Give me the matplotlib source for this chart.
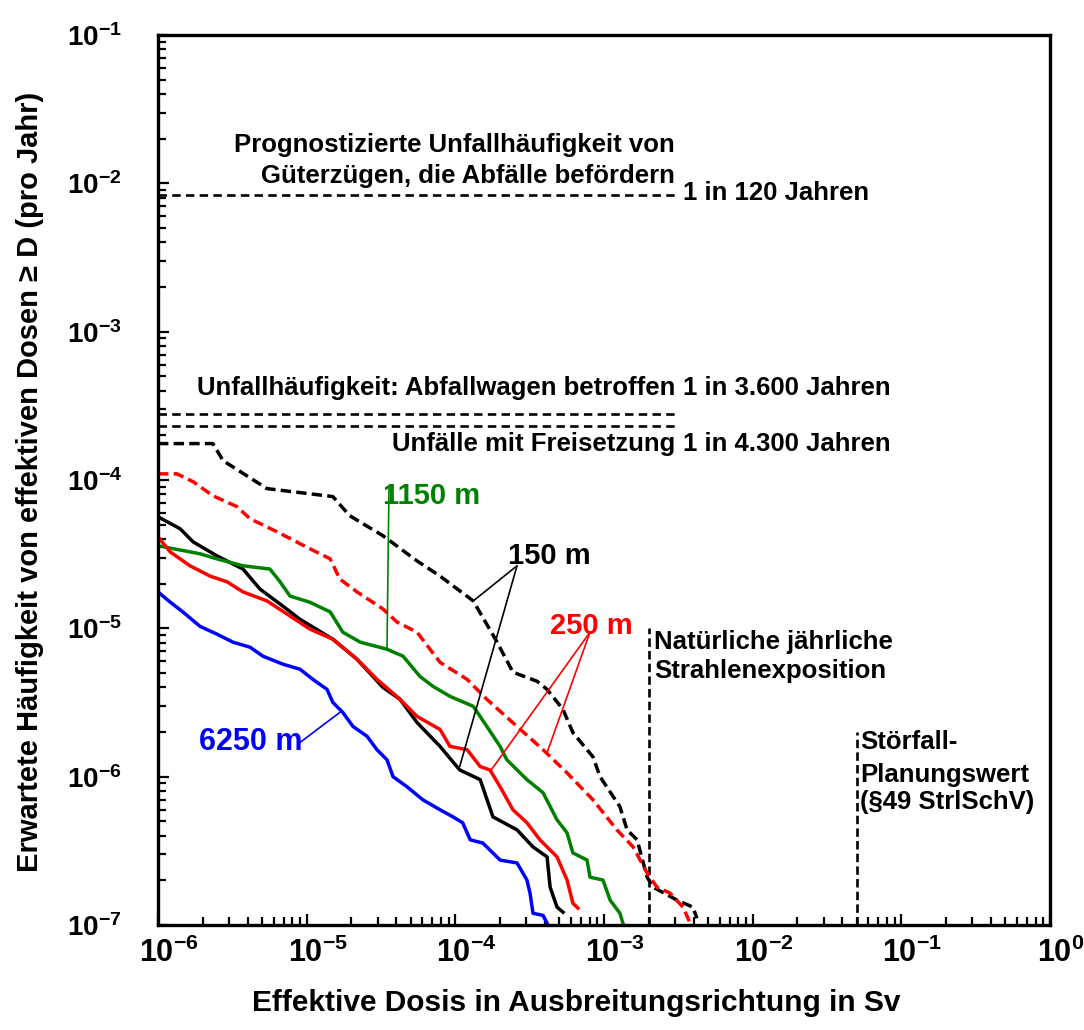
import matplotlib
matplotlib.use("Agg")
import matplotlib.pyplot as plt
from matplotlib.ticker import LogLocator, NullFormatter, FixedLocator, FixedFormatter
import matplotlib.transforms as mtransforms

# ----------------------------
# FONTS
# ----------------------------
plt.rcParams['font.family'] = ['Liberation Sans', 'DejaVu Sans']
plt.rcParams['font.weight'] = 'bold'
plt.rcParams['mathtext.fontset'] = 'custom'
plt.rcParams['mathtext.rm'] = 'Liberation Sans:bold'
plt.rcParams['mathtext.bf'] = 'Liberation Sans:bold'

# ----------------------------
# DATA
# ----------------------------
# 150 m, dashed
dose_150_dash = [1.00e-6, 2.34e-6, 2.74e-6, 5.41e-6, 1.50e-5, 1.95e-5, 3.26e-5, 5.52e-5, 7.89e-5,
                 1.32e-4, 1.91e-4, 2.44e-4, 3.54e-4, 4.14e-4, 5.30e-4, 6.18e-4, 8.43e-4, 9.40e-4,
                 1.28e-3, 1.43e-3, 1.67e-3, 1.95e-3, 2.14e-3, 3.10e-3, 3.96e-3, 4.22e-3]
freq_150_dash = [1.76e-4, 1.76e-4, 1.35e-4, 8.75e-5, 7.73e-5, 5.74e-5, 4.21e-5, 2.85e-5, 2.25e-5,
                 1.53e-5, 8.07e-6, 5.06e-6, 4.40e-6, 3.88e-6, 2.84e-6, 1.98e-6, 1.36e-6, 1.00e-6,
                 6.27e-7, 4.38e-7, 3.75e-7, 2.10e-7, 1.80e-7, 1.47e-7, 1.32e-7, 1.11e-7]

# 250 m, dashed
dose_250_dash = [1.00e-6, 1.34e-6, 1.72e-6, 2.34e-6, 3.40e-6, 4.16e-6, 6.31e-6, 1.05e-5, 1.44e-5,
                 1.67e-5, 2.18e-5, 3.26e-5, 4.06e-5, 5.52e-5, 7.89e-5, 1.20e-4, 1.63e-4, 2.60e-4,
                 3.89e-4, 5.64e-4, 8.43e-4, 1.22e-3, 1.57e-3, 1.95e-3, 2.27e-3, 2.78e-3, 3.40e-3, 3.78e-3]
freq_250_dash = [1.10e-4, 1.10e-4, 9.75e-5, 7.83e-5, 6.61e-5, 5.48e-5, 4.48e-5, 3.44e-5, 2.94e-5,
                 2.15e-5, 1.76e-5, 1.35e-5, 1.10e-5, 9.42e-6, 5.90e-6, 4.53e-6, 3.32e-6, 2.18e-6,
                 1.52e-6, 1.06e-6, 6.98e-7, 4.38e-7, 3.36e-7, 2.24e-7, 1.80e-7, 1.64e-7, 1.32e-7, 1.04e-7]

# 150 m, solid
dose_150 = [1.00e-6, 1.41e-6, 1.72e-6, 2.49e-6, 3.73e-6, 4.85e-6, 6.93e-6, 9.02e-6, 1.50e-5,
            2.18e-5, 3.26e-5, 4.25e-5, 5.52e-5, 7.89e-5, 1.07e-4, 1.47e-4, 1.79e-4, 2.60e-4,
            3.33e-4, 4.14e-4, 4.34e-4, 4.83e-4, 5.30e-4]
freq_150 = [5.65e-5, 4.69e-5, 3.83e-5, 3.08e-5, 2.51e-5, 1.84e-5, 1.41e-5, 1.15e-5, 8.45e-6,
            6.19e-6, 4.00e-6, 3.32e-6, 2.32e-6, 1.60e-6, 1.11e-6, 9.55e-7, 5.36e-7, 4.38e-7,
            3.36e-7, 2.88e-7, 1.80e-7, 1.32e-7, 1.22e-7]

# 250 m, solid
dose_250 = [1.00e-6, 1.21e-6, 1.64e-6, 2.24e-6, 2.91e-6, 3.73e-6, 5.41e-6, 7.73e-6, 1.05e-5,
            1.50e-5, 2.18e-5, 2.97e-5, 4.25e-5, 5.52e-5, 7.89e-5, 9.20e-5, 1.20e-4, 1.47e-4,
            1.71e-4, 2.00e-4, 2.44e-4, 3.03e-4, 3.71e-4, 4.83e-4, 5.64e-4, 6.18e-4, 6.68e-4]
freq_250 = [4.14e-5, 3.27e-5, 2.64e-5, 2.25e-5, 2.06e-5, 1.76e-5, 1.53e-5, 1.21e-5, 9.89e-6,
            8.45e-6, 6.19e-6, 4.53e-6, 3.32e-6, 2.55e-6, 2.08e-6, 1.60e-6, 1.52e-6, 1.17e-6,
            1.11e-6, 8.55e-7, 5.98e-7, 4.89e-7, 3.75e-7, 2.88e-7, 2.01e-7, 1.40e-7, 1.30e-7]

# 1150 m
dose_1150 = [1.00e-6, 1.92e-6, 2.49e-6, 3.73e-6, 5.66e-6, 6.62e-6, 7.73e-6, 1.05e-5, 1.44e-5,
             1.75e-5, 2.29e-5, 3.47e-5, 4.45e-5, 5.78e-5, 7.08e-5, 9.20e-5, 1.32e-4, 1.63e-4,
             2.00e-4, 2.22e-4, 3.03e-4, 3.89e-4, 4.83e-4, 5.64e-4, 6.18e-4, 7.69e-4, 8.05e-4,
             9.84e-4, 1.10e-3, 1.28e-3, 1.34e-3]
freq_1150 = [3.60e-5, 3.18e-5, 2.94e-5, 2.64e-5, 2.51e-5, 2.06e-5, 1.65e-5, 1.50e-5, 1.29e-5,
             9.42e-6, 8.07e-6, 7.23e-6, 6.49e-6, 4.74e-6, 4.06e-6, 3.48e-6, 2.98e-6, 2.18e-6,
             1.60e-6, 1.30e-6, 9.55e-7, 7.80e-7, 5.12e-7, 4.18e-7, 3.06e-7, 2.74e-7, 2.10e-7,
             2.01e-7, 1.47e-7, 1.20e-7, 1.03e-7]

# 6250 m
dose_6250 = [1.00e-6, 1.21e-6, 1.47e-6, 1.92e-6, 2.49e-6, 3.19e-6, 4.16e-6, 5.08e-6, 6.93e-6,
             9.02e-6, 1.10e-5, 1.37e-5, 1.50e-5, 1.75e-5, 2.05e-5, 2.55e-5, 2.97e-5, 3.47e-5,
             3.81e-5, 4.73e-5, 6.05e-5, 7.89e-5, 9.64e-5, 1.12e-4, 1.26e-4, 1.53e-4, 2.00e-4,
             2.60e-4, 3.03e-4, 3.18e-4, 3.33e-4, 3.89e-4, 4.20e-4]
freq_6250 = [1.76e-5, 1.50e-5, 1.29e-5, 1.03e-5, 9.14e-6, 8.07e-6, 7.46e-6, 6.49e-6, 5.73e-6,
             5.30e-6, 4.53e-6, 3.88e-6, 3.17e-6, 2.71e-6, 2.18e-6, 1.87e-6, 1.52e-6, 1.30e-6,
             1.00e-6, 8.55e-7, 6.98e-7, 5.98e-7, 5.36e-7, 4.89e-7, 3.75e-7, 3.57e-7, 2.74e-7,
             2.62e-7, 2.01e-7, 1.64e-7, 1.20e-7, 1.16e-7, 1.00e-7]

# reference accident frequencies (1 in 120 / 3600 / 4300 years)
ref_years = [120, 3600, 4300]
ref_dose_end = 3.0e-3
# reference doses: natural annual exposure, accident planning value
limit_dose = [2.0e-3, 5.0e-2]
limit_top = [1.0e-5, 2.0e-6]

x_ticks = [1e-6, 1e-5, 1e-4, 1e-3, 1e-2, 1e-1, 1e0]
x_ticklabels = [r'$\mathbf{10^{-6}}$', r'$\mathbf{10^{-5}}$', r'$\mathbf{10^{-4}}$',
                r'$\mathbf{10^{-3}}$', r'$\mathbf{10^{-2}}$', r'$\mathbf{10^{-1}}$', r'$\mathbf{10^{0}}$']
y_ticks = [1e-7, 1e-6, 1e-5, 1e-4, 1e-3, 1e-2, 1e-1]
y_ticklabels = [r'$\mathbf{10^{-7}}$', r'$\mathbf{10^{-6}}$', r'$\mathbf{10^{-5}}$',
                r'$\mathbf{10^{-4}}$', r'$\mathbf{10^{-3}}$', r'$\mathbf{10^{-2}}$', r'$\mathbf{10^{-1}}$']

GREEN = '#008000'
RED = '#ff0000'
BLUE = '#0000ff'

# ----------------------------
# FIGURE
# ----------------------------
fig = plt.figure(figsize=(10.84, 10.30), dpi=100)
ax = fig.add_axes([158 / 1084, 1 - 925 / 1030, 892 / 1084, 890 / 1030])
ax.set_xscale('log')
ax.set_yscale('log')
ax.set_xlim(1e-6, 1e0)
ax.set_ylim(1e-7, 1e-1)

# reference lines
ref_freq = [1.0 / y for y in ref_years]
ax.hlines(ref_freq, 1e-6, ref_dose_end, colors='k', linestyles=(0, (3.2, 2.0)), lw=1.9)
ax.vlines(limit_dose, 1e-7, limit_top, colors='k', linestyles=(0, (3.2, 1.6)), lw=1.9)

# curves
lw = 2.5
dash = (0, (3.0, 1.5))
ax.plot(dose_150_dash, freq_150_dash, color='k', lw=lw, ls=dash)
ax.plot(dose_250_dash, freq_250_dash, color=RED, lw=lw, ls=dash)
ax.plot(dose_150, freq_150, color='k', lw=lw)
ax.plot(dose_1150, freq_1150, color=GREEN, lw=lw)
ax.plot(dose_250, freq_250, color=RED, lw=lw)
ax.plot(dose_6250, freq_6250, color=BLUE, lw=lw)

# ----------------------------
# TEXT LABELS
# ----------------------------
fs = 18.5
ax.text(3.0e-3, 1.80e-2, 'Prognostizierte Unfallhäufigkeit von', ha='right', va='center', fontsize=fs)
ax.text(3.0e-3, 1.12e-2, 'Güterzügen, die Abfälle befördern', ha='right', va='center', fontsize=fs)
ax.text(3.4e-3, 8.6e-3, '1 in 120 Jahren', ha='left', va='center', fontsize=fs)
ax.text(3.0e-3, 4.15e-4, 'Unfallhäufigkeit: Abfallwagen betroffen', ha='right', va='center', fontsize=fs)
ax.text(3.4e-3, 4.15e-4, '1 in 3.600 Jahren', ha='left', va='center', fontsize=fs)
ax.text(3.0e-3, 1.76e-4, 'Unfälle mit Freisetzung', ha='right', va='center', fontsize=fs)
ax.text(3.4e-3, 1.76e-4, '1 in 4.300 Jahren', ha='left', va='center', fontsize=fs)
ax.text(2.17e-3, 8.07e-6, 'Natürliche jährliche', ha='left', va='center', fontsize=fs)
ax.text(2.17e-3, 5.13e-6, 'Strahlenexposition', ha='left', va='center', fontsize=fs)
ax.text(5.3e-2, 1.70e-6, 'Störfall-', ha='left', va='center', fontsize=fs)
ax.text(5.3e-2, 1.03e-6, 'Planungswert', ha='left', va='center', fontsize=fs)
ax.text(5.3e-2, 6.8e-7, '(§49 StrlSchV)', ha='left', va='center', fontsize=fs)

# distance labels with leader lines
lfs = 21
ax.text(3.26e-5, 7.83e-5, '1150 m', color=GREEN, ha='left', va='center', fontsize=lfs)
ax.text(2.26e-4, 3.08e-5, '150 m', color='k', ha='left', va='center', fontsize=lfs)
ax.text(4.34e-4, 1.03e-5, '250 m', color=RED, ha='left', va='center', fontsize=lfs)
ax.text(9.4e-6, 1.70e-6, '6250 m', color=BLUE, ha='right', va='center', fontsize=22)

leaders = [
    ((3.58e-5, 9.2e-5), (3.47e-5, 7.2e-6), GREEN),
    ((2.60e-4, 2.64e-5), (1.32e-4, 1.53e-5), 'k'),
    ((2.60e-4, 2.64e-5), (1.07e-4, 1.17e-6), 'k'),
    ((8.05e-4, 9.42e-6), (1.71e-4, 1.08e-6), RED),
    ((8.05e-4, 9.42e-6), (4.14e-4, 1.45e-6), RED),
    ((9.02e-6, 1.70e-6), (1.67e-5, 2.71e-6), BLUE),
]
for start, end, col in leaders:
    ax.annotate('', xy=end, xytext=start,
                arrowprops=dict(arrowstyle='-', color=col, lw=1.2, shrinkA=0, shrinkB=0))

# ----------------------------
# AXES STYLE
# ----------------------------
for sp in ax.spines.values():
    sp.set_linewidth(2.4)

ax.xaxis.set_major_locator(FixedLocator(x_ticks))
ax.xaxis.set_major_formatter(FixedFormatter(x_ticklabels))
ax.yaxis.set_major_locator(FixedLocator(y_ticks))
ax.yaxis.set_major_formatter(FixedFormatter(y_ticklabels))
ax.xaxis.set_minor_locator(LogLocator(base=10, subs=range(2, 10), numticks=20))
ax.yaxis.set_minor_locator(LogLocator(base=10, subs=range(2, 10), numticks=20))
ax.xaxis.set_minor_formatter(NullFormatter())
ax.yaxis.set_minor_formatter(NullFormatter())

ax.tick_params(which='both', direction='in', top=False, right=False, width=1.6)
ax.tick_params(which='major', length=8)
ax.tick_params(which='minor', length=6)
ax.tick_params(axis='x', which='major', labelsize=22, pad=9)
ax.tick_params(axis='y', which='major', labelsize=20, pad=26)

offset = mtransforms.ScaledTranslation(8 / 72, 0, fig.dpi_scale_trans)
for lbl in ax.get_xticklabels():
    lbl.set_transform(lbl.get_transform() + offset)

fig.text(576 / 1084, 1 - 1003 / 1030, 'Effektive Dosis in Ausbreitungsrichtung in Sv',
         ha='center', va='center', fontsize=21.5)
fig.text(30 / 1084, 1 - 482 / 1030, 'Erwartete Häufigkeit von effektiven Dosen ≥ D (pro Jahr)',
         ha='center', va='center', rotation=90, fontsize=21)

fig.savefig('out.png', dpi=100)
